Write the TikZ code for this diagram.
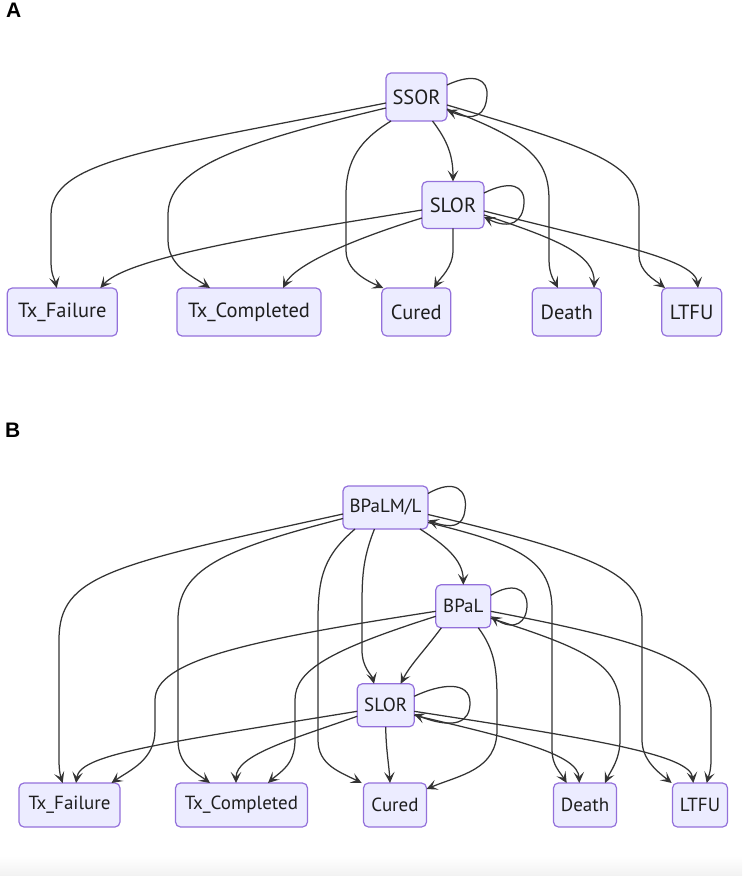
\documentclass[tikz,border=0pt]{standalone}
\usepackage{fontspec}
\setmainfont{PT Sans}
\newfontfamily\labfont{Liberation Sans}
\usetikzlibrary{arrows.meta,calc}
\definecolor{nodefill}{HTML}{ECECFF}
\definecolor{nodedraw}{HTML}{9370DB}
\definecolor{edgecol}{HTML}{333333}
\definecolor{txtcol}{HTML}{1E1E1E}
\tikzset{
  st/.style={rectangle, rounded corners=5pt, draw=nodedraw, fill=nodefill, line width=1.2pt,
    inner sep=0pt, outer sep=0pt, text=txtcol, align=center},
  stA/.style={st, font=\fontsize{20.5}{22}\selectfont, minimum height=48pt},
  stB/.style={st, font=\fontsize{19}{20}\selectfont, minimum height=43pt},
  edge/.style={draw=edgecol, line width=1.25pt, -{Stealth[length=11pt,width=10.5pt,inset=5pt]}},
  panellab/.style={font=\labfont\bfseries\fontsize{21}{21}\selectfont, inner sep=0pt, anchor=west}
}
\begin{document}
\begin{tikzpicture}[x=1pt,y=-1pt]
\useasboundingbox (0,0) rectangle (742,877);
\shade[top color=white, bottom color=black!5] (0,856) rectangle (742,875);

% ---------- Panel A ----------
\node[panellab] (labA) at (6,10) {A};
\node[stA, minimum width=61pt] (SSOR) at (416.5,97) {SSOR};
\node[stA, minimum width=62pt, minimum height=47pt] (SLORA) at (453,205) {SLOR};
\node[stA, minimum width=110pt] (TxFA) at (62.3,312) {Tx\_Failure};
\node[stA, minimum width=144pt] (TxCA) at (249,312) {Tx\_Completed};
\node[stA, minimum width=69pt] (CuredA) at (416.3,312) {Cured};
\node[stA, minimum width=69pt] (DeathA) at (566.7,312) {Death};
\node[stA, minimum width=60pt] (LTFUA) at (691.7,312) {LTFU};

\draw[edge] ([yshift=12pt]SSOR.east) .. controls (475,72) and (488,80) .. (487,95)
  .. controls (486,115) and (475,122) .. ([yshift=-13pt]SSOR.east);
\draw[edge] ([xshift=16pt]SSOR.south) .. controls (447,140) and (453,155) .. (SLORA.north);
\draw[edge] ([yshift=-6pt]SSOR.west) .. controls (150,150) and (51,160) .. (51,215) -- (51,262)
  .. controls (51,275) and (55,280) .. ([xshift=-5.6pt]TxFA.north);
\draw[edge] ([yshift=-11pt]SSOR.west) .. controls (230,145) and (168,170) .. (168,215) -- (168,240)
  .. controls (168,265) and (190,275) .. ([xshift=-39pt]TxCA.north);
\draw[edge] ([xshift=5pt]SSOR.south west) .. controls (360,140) and (346,160) .. (346,195) -- (346,250)
  .. controls (346,270) and (365,280) .. ([xshift=1.5pt]CuredA.north west);
\draw[edge] ([yshift=-12pt]SSOR.east) .. controls (530,140) and (549,160) .. (549,200) -- (549,260)
  .. controls (549,275) and (555,282) .. ([xshift=-8.7pt]DeathA.north);
\draw[edge] ([yshift=-8pt]SSOR.east) .. controls (600,150) and (639,165) .. (639,210) -- (639,255)
  .. controls (639,272) and (655,280) .. ([xshift=3.3pt]LTFUA.north west);

\draw[edge] ([yshift=12pt]SLORA.east) .. controls (510,180) and (525,185) .. (524,203)
  .. controls (523,222) and (510,230) .. ([yshift=-12pt]SLORA.east);
\draw[edge] ([yshift=-5pt]SLORA.west) .. controls (300,230) and (130,255) .. ([xshift=38pt]TxFA.north);
\draw[edge] ([yshift=-13pt]SLORA.west) .. controls (350,240) and (295,265) .. ([xshift=34pt]TxCA.north);
\draw[edge] (SLORA.south) -- (453,250) .. controls (453,268) and (440,278) .. ([xshift=17.7pt]CuredA.north);
\draw[edge] ([yshift=-10pt]SLORA.east) .. controls (560,240) and (595,255) .. ([xshift=27.3pt]DeathA.north);
\draw[edge] ([yshift=-6pt]SLORA.east) .. controls (620,245) and (695,260) .. ([xshift=6.3pt]LTFUA.north);

% ---------- Panel B ----------
\node[panellab] (labB) at (5,430) {B};
\node[stB, minimum width=85pt] (BPaLM) at (385.5,507.5) {BPaLM/L};
\node[stB, minimum width=55pt] (BPaL) at (463.3,606.3) {BPaL};
\node[stB, minimum width=57pt] (SLORB) at (385.7,705.3) {SLOR};
\node[stB, minimum width=101pt, minimum height=44pt] (TxFB) at (69.5,805) {Tx\_Failure};
\node[stB, minimum width=132pt, minimum height=44pt] (TxCB) at (241.5,805) {Tx\_Completed};
\node[stB, minimum width=63pt, minimum height=44pt] (CuredB) at (395,805) {Cured};
\node[stB, minimum width=63pt, minimum height=44pt] (DeathB) at (585,805) {Death};
\node[stB, minimum width=55pt, minimum height=44pt] (LTFUB) at (700,805) {LTFU};

\draw[edge] ([yshift=14pt]BPaLM.east) .. controls (455,478) and (468,490) .. (465,510)
  .. controls (463,528) and (450,528) .. ([yshift=-13pt]BPaLM.east);
\draw[edge] ([xshift=-8pt]BPaLM.south east) .. controls (445,545) and (463,560) .. (BPaL.north);
\draw[edge] ([xshift=-11pt]BPaLM.south) .. controls (362,560) and (362,580) .. (362,610) -- (362,650)
  .. controls (362,668) and (372,675) .. ([xshift=-11.7pt]SLORB.north);
\draw[edge] ([yshift=-6.5pt]BPaLM.west) .. controls (110,565) and (59,575) .. (59,640) -- (59,760)
  .. controls (59,772) and (61,778) .. ([xshift=-6.8pt]TxFB.north);
\draw[edge] ([yshift=-11pt]BPaLM.west) .. controls (220,550) and (178,570) .. (178,620) -- (178,740)
  .. controls (178,765) and (195,772) .. ([xshift=-31.5pt]TxCB.north);
\draw[edge] ([xshift=12pt]BPaLM.south west) .. controls (325,555) and (318,575) .. (318,620) -- (318,740)
  .. controls (318,765) and (340,772) .. ([xshift=-1.8pt]CuredB.north west);
\draw[edge] ([yshift=-15pt]BPaLM.east) .. controls (520,545) and (552,560) .. (552,610) -- (552,750)
  .. controls (552,765) and (560,772) .. ([xshift=-18.3pt]DeathB.north);
\draw[edge] ([yshift=-7pt]BPaLM.east) .. controls (600,555) and (642,575) .. (642,620) -- (642,740)
  .. controls (642,760) and (658,772) .. ([xshift=-0.8pt]LTFUB.north west);

\draw[edge] ([yshift=11pt]BPaL.east) .. controls (512,582) and (527,588) .. (527,605)
  .. controls (527,622) and (515,632) .. ([yshift=-10pt]BPaL.east);
\draw[edge] ([xshift=-22pt]BPaL.south) .. controls (425,650) and (410,665) .. ([xshift=15pt]SLORB.north);
\draw[edge] ([yshift=-5pt]BPaL.west) .. controls (250,640) and (155,660) .. (155,700) -- (155,730)
  .. controls (155,760) and (130,770) .. ([xshift=42pt]TxFB.north);
\draw[edge] ([yshift=-10pt]BPaL.west) .. controls (330,650) and (295,670) .. (295,700) -- (295,740)
  .. controls (295,765) and (280,772) .. ([xshift=26.5pt]TxCB.north);
\draw[edge] ([xshift=15pt]BPaL.south) .. controls (495,650) and (497,670) .. (497,700) -- (497,730)
  .. controls (497,770) and (460,775) .. ([yshift=-6pt]CuredB.north east);
\draw[edge] ([yshift=-12pt]BPaL.east) .. controls (590,650) and (620,665) .. (620,710) -- (620,740)
  .. controls (620,760) and (610,772) .. ([xshift=20pt]DeathB.north);
\draw[edge] ([yshift=-5pt]BPaL.east) .. controls (640,640) and (711,660) .. (711,710) -- (711,760)
  .. controls (711,772) and (708,778) .. ([xshift=6.7pt]LTFUB.north);

\draw[edge] ([yshift=9pt]SLORB.east) .. controls (440,684) and (470,680) .. (470,703)
  .. controls (470,722) and (455,730) .. ([yshift=-9pt]SLORB.east);
\draw[edge] ([yshift=-6pt]SLORB.west) .. controls (150,745) and (80,755) .. ([xshift=6.5pt]TxFB.north);
\draw[edge] ([yshift=-11pt]SLORB.west) .. controls (290,740) and (236,755) .. ([xshift=-5.5pt]TxCB.north);
\draw[edge] (SLORB.south) .. controls (386,750) and (389,765) .. ([xshift=-5pt]CuredB.north);
\draw[edge] ([yshift=-10pt]SLORB.east) .. controls (520,740) and (578,755) .. ([xshift=-5.7pt]DeathB.north);
\draw[edge] ([yshift=-6pt]SLORB.east) .. controls (600,740) and (690,755) .. ([xshift=-6.7pt]LTFUB.north);
\end{tikzpicture}
\end{document}
